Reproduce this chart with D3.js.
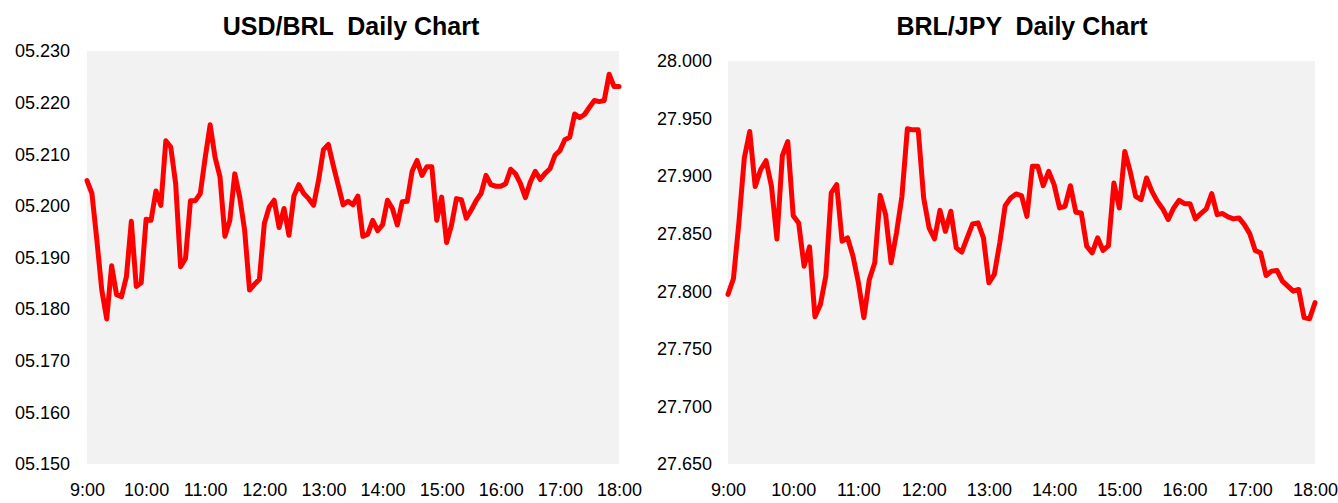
<!DOCTYPE html>
<html>
<head>
<meta charset="utf-8">
<script src="https://cdn.jsdelivr.net/npm/d3@7"></script>
<style>
  body { margin: 0; background: #fff; }
  svg text { font-family: "Liberation Sans", Arial, sans-serif; fill: #000; }
</style>
</head>
<body>
<div id="chart"></div>
<script>
// x-axis labels (one every 12 points, 5 minute data)
var timeLabels = ["9:00","10:00","11:00","12:00","13:00","14:00","15:00","16:00","17:00","18:00"];

// USD/BRL, 9:00 - 18:00
var usdbrl = [
  5.2049,5.2024,5.1934,5.1837,5.1781,5.1884,5.1828,5.1824,5.1863,5.1970,
  5.1844,5.1851,5.1974,5.1972,5.2029,5.2001,5.2126,5.2114,5.2043,5.1882,
  5.1898,5.2010,5.2010,5.2024,5.2094,5.2157,5.2094,5.2056,5.1941,5.1972,
  5.2062,5.2017,5.1953,5.1837,5.1848,5.1858,5.1966,5.1998,5.2011,5.1958,
  5.1995,5.1943,5.2019,5.2041,5.2024,5.2014,5.2001,5.2049,5.2109,5.2119,
  5.2078,5.2040,5.2002,5.2009,5.2002,5.2019,5.1941,5.1945,5.1972,5.1952,
  5.1963,5.2011,5.1995,5.1963,5.2008,5.2009,5.2067,5.2088,5.2059,5.2076,
  5.2076,5.1972,5.2017,5.1929,5.1963,5.2014,5.2012,5.1976,5.1992,5.2010,
  5.2024,5.2059,5.2041,5.2038,5.2038,5.2043,5.2071,5.2062,5.2043,5.2016,
  5.2046,5.2067,5.2051,5.2063,5.2072,5.2098,5.2107,5.2128,5.2133,5.2178,
  5.2171,5.2177,5.2191,5.2204,5.2202,5.2204,5.2255,5.2231,5.2231
];

// BRL/JPY, 9:00 - 18:00
var brljpy = [
  27.7973,27.8109,27.8594,27.9157,27.9388,27.8911,27.9056,27.9134,27.8911,27.8455,
  27.9177,27.9301,27.8657,27.8594,27.8218,27.8386,27.7779,27.7886,27.8132,27.8854,
  27.8926,27.8435,27.8464,27.8305,27.8074,27.7771,27.8103,27.8247,27.8833,27.8666,
  27.8247,27.8507,27.8825,27.9411,27.9402,27.9402,27.8810,27.8551,27.8455,27.8703,
  27.8521,27.8695,27.8377,27.8340,27.8464,27.8585,27.8594,27.8464,27.8074,27.8146,
  27.8421,27.8744,27.8810,27.8845,27.8830,27.8651,27.9085,27.9085,27.8917,27.9041,
  27.8926,27.8724,27.8738,27.8917,27.8686,27.8680,27.8391,27.8334,27.8464,27.8354,
  27.8397,27.8940,27.8724,27.9214,27.9041,27.8825,27.8796,27.8984,27.8868,27.8781,
  27.8715,27.8623,27.8724,27.8790,27.8761,27.8761,27.8629,27.8675,27.8715,27.8848,
  27.8666,27.8675,27.8646,27.8629,27.8637,27.8579,27.8499,27.8354,27.8334,27.8137,
  27.8175,27.8181,27.8088,27.8045,27.8001,27.8016,27.7771,27.7762,27.7901
];

var usdbrlTicks = [5.15, 5.16, 5.17, 5.18, 5.19, 5.20, 5.21, 5.22, 5.23];
var brljpyTicks = [27.65, 27.70, 27.75, 27.80, 27.85, 27.90, 27.95, 28.00];

var svg = d3.select("#chart").append("svg")
    .attr("width", 1338)
    .attr("height", 503);

function drawPanel(opt) {
  var g = svg.append("g");
  var n = opt.values.length;

  var x = d3.scaleLinear().domain([0, n - 1]).range([opt.left, opt.right]);
  var y = d3.scaleLinear().domain(d3.extent(opt.ticks)).range([opt.bottom, opt.top]);

  // plot background
  g.append("rect")
    .attr("x", opt.left)
    .attr("y", opt.top)
    .attr("width", opt.right - opt.left)
    .attr("height", opt.bottom - opt.top)
    .attr("fill", "#f2f2f2");

  // title
  g.append("text")
    .attr("x", opt.titleX)
    .attr("y", 35)
    .attr("text-anchor", "middle")
    .style("font-size", "25px")
    .style("font-weight", "bold")
    .style("white-space", "pre")
    .text(opt.title);

  // y axis
  var yAxis = d3.axisLeft(y)
    .tickValues(opt.ticks)
    .tickSize(0)
    .tickPadding(0)
    .tickFormat(opt.fmt);
  var ya = g.append("g")
    .attr("transform", "translate(" + opt.labelX + ",0)")
    .call(yAxis);
  ya.select(".domain").remove();
  ya.selectAll("text").style("font-size", "18px");

  // x axis
  var xAxis = d3.axisBottom(x)
    .tickValues(d3.range(0, n, 12))
    .tickSize(0)
    .tickPadding(0)
    .tickFormat(function(d, i) { return timeLabels[i]; });
  var xa = g.append("g")
    .attr("transform", "translate(0," + 483 + ")")
    .call(xAxis);
  xa.select(".domain").remove();
  xa.selectAll("text").style("font-size", "18px");

  var line = d3.line()
    .x(function(d, i) { return x(i); })
    .y(function(d) { return y(d); });

  g.append("path")
    .datum(opt.values)
    .attr("d", line)
    .attr("fill", "none")
    .attr("stroke", "#ff0000")
    .attr("stroke-width", 5)
    .attr("stroke-linejoin", "round")
    .attr("stroke-linecap", "round");
}

drawPanel({
  title: "USD/BRL  Daily Chart",
  titleX: 351,
  values: usdbrl,
  ticks: usdbrlTicks,
  fmt: d3.format("06.3f"),
  left: 87, right: 619, top: 51, bottom: 464,
  labelX: 70
});

drawPanel({
  title: "BRL/JPY  Daily Chart",
  titleX: 1022,
  values: brljpy,
  ticks: brljpyTicks,
  fmt: d3.format(".3f"),
  left: 728, right: 1315, top: 61, bottom: 464,
  labelX: 712
});
</script>
</body>
</html>
